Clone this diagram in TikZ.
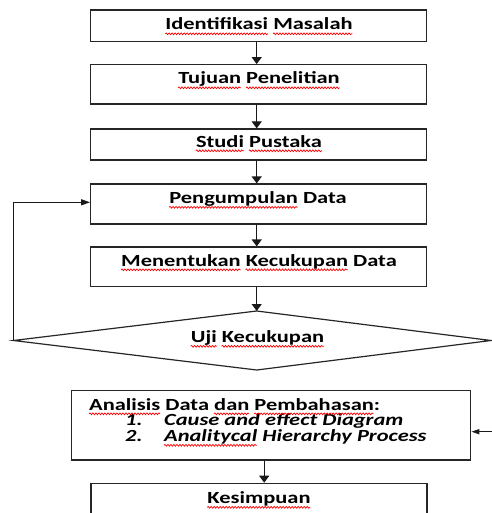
\documentclass[tikz,border=0pt]{standalone}
\usepackage{fontspec}
\setmainfont{Carlito}[FakeStretch=1.32]
\usetikzlibrary{arrows.meta,decorations.pathmorphing}
\newcommand\txtfont{\fontsize{17}{20}\selectfont\bfseries}
\newcommand\itxtfont{\fontsize{17}{20}\selectfont\bfseries\itshape}
% record (inside node text) the offset and width of a word: id, prefix, word
\newcommand\rec[3]{\setbox0=\hbox{#2}\expandafter\xdef\csname wp@#1\endcsname{\the\wd0}%
  \setbox0=\hbox{#3}\expandafter\xdef\csname wl@#1\endcsname{\the\wd0}}
% draw the squiggle under a recorded word: node, id
\newcommand\sq[2]{\draw[squig] ([xshift=\csname wp@#2\endcsname,yshift=-3.8pt]#1.base west) -- ++(\csname wl@#2\endcsname,0pt);}
\begin{document}
\begin{tikzpicture}[x=1pt,y=-1pt,
  box/.style={draw=black!85, line width=1.2pt, inner sep=0pt, minimum width=336pt},
  txt/.style={inner sep=0pt, font=\txtfont, text=black},
  itxt/.style={inner sep=0pt, font=\itxtfont, text=black, anchor=base west},
  arr/.style={draw=black!90, line width=1.2pt, -{Triangle[length=7pt,width=10pt]}},
  squig/.style={draw=red, line width=0.7pt, decorate, decoration={snake, amplitude=0.9pt, segment length=3pt}}]
\useasboundingbox (0,0) rectangle (491,513);
% boxes
\node[box, minimum height=31.3pt] (b1) at (258.7,25.65) {};
\node[box, minimum height=39.3pt] (b2) at (258.7,84.35) {};
\node[box, minimum height=31pt] (b3) at (258.7,144.5) {};
\node[box, minimum height=40pt] (b4) at (258.7,204) {};
\node[box, minimum height=39.7pt] (b5) at (258.7,266.85) {};
\coordinate (dL) at (13.5,340.5);
\coordinate (dT) at (256.7,311);
\coordinate (dR) at (491,340.5);
\coordinate (dB) at (256.7,370);
\draw[draw=black!85, line width=1.2pt] (dL) -- (dT) -- (dR) -- (dB) -- cycle;
\node[box, minimum width=399pt, minimum height=69.7pt] (b6) at (271.2,425.15) {};
\node[box, minimum height=60pt] (b7) at (259,513.3) {};
% texts
\node[txt, anchor=base] (t1) at (259,30) {\rec{a1}{}{Identifikasi}\rec{a2}{Identifikasi\ }{Masalah}Identifikasi Masalah};
\node[txt, anchor=base] (t2) at (259,84) {\rec{b1}{}{Tujuan}\rec{b2}{Tujuan\ }{Penelitian}Tujuan Penelitian};
\node[txt, anchor=base] (t3) at (259,147) {\rec{c1}{}{Studi}\rec{c2}{Studi\ }{Pustaka}Studi Pustaka};
\node[txt, anchor=base] (t4) at (258,203.5) {\rec{d1}{}{Pengumpulan}Pengumpulan Data};
\node[txt, anchor=base] (t5) at (259,266) {\rec{e1}{}{Menentukan}\rec{e2}{Menentukan\ }{Kecukupan}Menentukan Kecukupan Data};
\node[txt, anchor=base] (t6) at (257.5,342.5) {\rec{f1}{}{Uji}\rec{f2}{Uji\ }{Kecukupan}Uji Kecukupan};
\node[txt, anchor=base west] (t7) at (89,410) {\rec{g1}{}{Analisis}\rec{g2}{Analisis Data\ }{dan}\rec{g3}{Analisis Data dan\ }{Pembahasan}Analisis Data dan Pembahasan:};
\node[itxt] (n1) at (125,425.5) {1.};
\node[itxt] (i1) at (164,425.5) {Cause and effect Diagram};
\node[itxt] (n2) at (125,441.5) {2.};
\node[itxt] (i2) at (164,441.5) {\rec{h1}{}{Analitycal}Analitycal Hierarchy Process};
\node[txt, anchor=base] (t8) at (259,503.5) {\rec{k1}{}{Kesimpuan}Kesimpuan};
% connectors
\draw[arr] ([xshift=-2pt]b1.south) -- ([xshift=-2pt]b2.north);
\draw[arr] ([xshift=-2pt]b2.south) -- ([xshift=-2pt]b3.north);
\draw[arr] ([xshift=-2pt]b3.south) -- ([xshift=-2pt]b4.north);
\draw[arr] ([xshift=-2pt]b4.south) -- ([xshift=-2pt]b5.north);
\draw[arr] ([xshift=-2pt]b5.south) -- (dT);
\draw[arr, -{Triangle[length=9pt,width=6pt]}] (dL) |- ([yshift=1.7pt]b4.west);
\coordinate (rin) at (495,431.7);
\draw[arr, -{Triangle[length=8pt,width=5pt]}] (rin) -- (rin -| b6.east);
\draw[arr] ([xshift=-7pt]b6.south) -- ([xshift=-7pt]b6.south |- b7.north);
% spell-check squiggles
\sq{t1}{a1} \sq{t1}{a2}
\sq{t2}{b1} \sq{t2}{b2}
\sq{t3}{c1} \sq{t3}{c2}
\sq{t4}{d1}
\sq{t5}{e1} \sq{t5}{e2}
\sq{t6}{f1} \sq{t6}{f2}
\sq{t7}{g1} \sq{t7}{g2} \sq{t7}{g3}
\sq{i2}{h1}
\sq{t8}{k1}
\end{tikzpicture}
\end{document}
